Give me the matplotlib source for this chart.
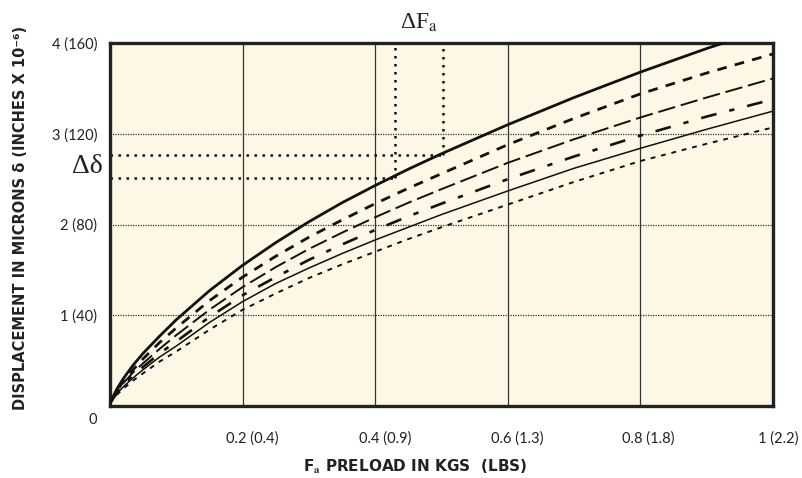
import matplotlib.pyplot as plt
from matplotlib import transforms

plt.rcParams["mathtext.fontset"] = "stix"

# preload (kg) and displacement (microns)
preload = [0, 0.01, 0.02, 0.035, 0.05, 0.075, 0.1, 0.15, 0.2, 0.25, 0.3, 0.35,
           0.4, 0.45, 0.5, 0.6, 0.7, 0.8, 0.9, 1.0]
curve_a = [0.03, 0.18, 0.30, 0.45, 0.58, 0.77, 0.95, 1.27, 1.55, 1.80, 2.03, 2.24,
           2.43, 2.61, 2.78, 3.10, 3.40, 3.68, 3.94, 4.18]
curve_b = [0.03, 0.16, 0.27, 0.40, 0.52, 0.70, 0.86, 1.16, 1.42, 1.65, 1.86, 2.05,
           2.23, 2.40, 2.56, 2.88, 3.17, 3.44, 3.67, 3.88]
curve_c = [0.03, 0.15, 0.25, 0.37, 0.47, 0.63, 0.78, 1.06, 1.31, 1.53, 1.73, 1.91,
           2.08, 2.24, 2.39, 2.68, 2.94, 3.18, 3.40, 3.61]
curve_d = [0.03, 0.14, 0.23, 0.34, 0.43, 0.58, 0.71, 0.98, 1.22, 1.42, 1.61, 1.78,
           1.94, 2.09, 2.23, 2.50, 2.75, 2.98, 3.19, 3.38]
curve_e = [0.03, 0.13, 0.21, 0.31, 0.40, 0.54, 0.66, 0.92, 1.15, 1.35, 1.52, 1.68,
           1.83, 1.97, 2.11, 2.37, 2.62, 2.84, 3.05, 3.25]
curve_f = [0.03, 0.12, 0.19, 0.28, 0.36, 0.49, 0.60, 0.84, 1.06, 1.24, 1.41, 1.56,
           1.70, 1.84, 1.97, 2.22, 2.47, 2.70, 2.89, 3.07]

# delta markers (where they meet the top curve)
delta_f = [0.43, 0.502]
delta_d = [2.51, 2.77]

x_ticks = [0.2, 0.4, 0.6, 0.8, 1.0]
x_labels = ["0.2 (0.4)", "0.4 (0.9)", "0.6 (1.3)", "0.8 (1.8)", "1 (2.2)"]
y_ticks = [1, 2, 3, 4]
y_labels = ["1 (40)", "2 (80)", "3 (120)", "4 (160)"]

fig = plt.figure(figsize=(8.02, 4.78), dpi=100)
ax = fig.add_axes([0.137, 0.1506, 0.827, 0.7594])
ax.set_facecolor("#FCF8E5")

# grid
for x in [0.2, 0.4, 0.6, 0.8]:
    ax.axvline(x, color="#333333", linewidth=0.9, zorder=1)
for y in [1, 2, 3]:
    ax.axhline(y, color="#333333", linewidth=0.9, linestyle=(0, (1, 1)), zorder=1)

k = dict(color="#111111", zorder=3)
ax.plot(preload, curve_a, linewidth=2.0, **k)
ax.plot(preload, curve_b, linewidth=2.0, dashes=(3.5, 3), **k)
ax.plot(preload, curve_c, linewidth=1.4, dashes=(9, 3), **k)
ax.plot(preload, curve_d, linewidth=1.9, dashes=(6, 5, 2, 5), **k)
ax.plot(preload, curve_e, linewidth=1.1, **k)
ax.plot(preload, curve_f, linewidth=1.4, dashes=(2.5, 3), **k)

# delta lines
dot = dict(color="#111111", linewidth=1.8, linestyle=(0, (1, 2.2)), zorder=2)
for xf, yd in zip(delta_f, delta_d):
    ax.plot([0, xf], [yd, yd], **dot)
    ax.plot([xf, xf], [yd, 4], **dot)

ax.set_xlim(0, 1)
ax.set_ylim(0, 4)
for s in ax.spines.values():
    s.set_linewidth(2.4)
    s.set_color("#222222")
ax.tick_params(length=0)

tick_font = dict(family="Lato", fontsize=10.5, color="#222222")
ax.set_xticks(x_ticks)
ax.set_xticklabels(x_labels, **tick_font)
ax.tick_params(axis="x", pad=18)
for lab, dx in zip(ax.get_xticklabels(), [10, 10, 9, 8, 5]):
    shift = transforms.ScaledTranslation(dx / 100, 0, fig.dpi_scale_trans)
    lab.set_transform(lab.get_transform() + shift)
ax.set_yticks(y_ticks)
ax.set_yticklabels(y_labels, **tick_font)
ax.tick_params(axis="y", pad=9)
ax.text(-0.026, -0.15, "0", ha="center", va="center", **tick_font)

ax.text(-0.011, sum(delta_d) / 2, "Δδ", ha="right", va="center",
        family="Liberation Serif", fontsize=20, color="#222222")
ax.text(sum(delta_f) / 2, 4.1, r"ΔF$_{\mathrm{a}}$", ha="center", va="bottom",
        family="Liberation Serif", fontsize=17, color="#222222")

fig.text(0.025, 0.545, "DISPLACEMENT IN MICRONS δ (INCHES X 10⁻⁶)", rotation=90,
         ha="center", va="center", fontsize=10.5, fontweight="bold", color="#222222")
fig.text(0.518, 0.023, r"F$_{\mathbf{a}}$ PRELOAD IN KGS  (LBS)", ha="center",
         va="center", fontsize=11, fontweight="bold", color="#222222")

fig.savefig("out.png", dpi=100)
